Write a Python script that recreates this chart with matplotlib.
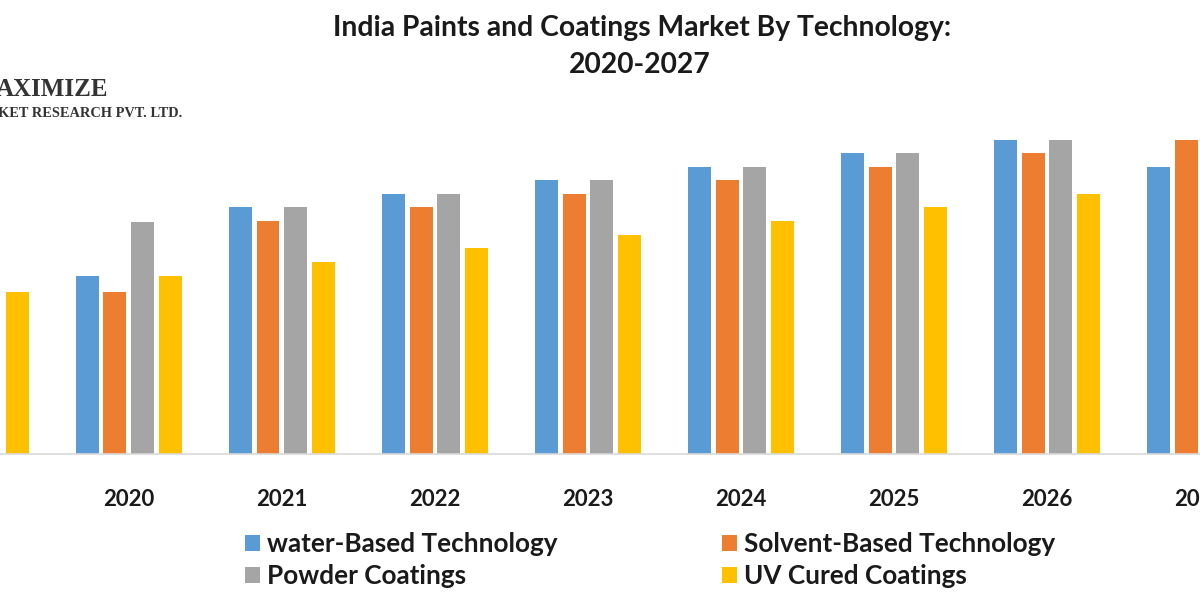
import matplotlib
matplotlib.use('Agg')
import matplotlib.pyplot as plt
import numpy as np
from matplotlib.patches import Patch

years = ['2019', '2020', '2021', '2022', '2023', '2024', '2025', '2026', '2027']
series_names = ['water-Based Technology', 'Solvent-Based Technology',
                'Powder Coatings', 'UV Cured Coatings']
water = [np.nan, 17.8, 24.7, 26.0, 27.4, 28.7, 30.1, 31.4, 28.7]
solvent = [np.nan, 16.2, 23.3, 24.7, 26.0, 27.4, 28.7, 30.1, 31.4]
powder = [np.nan, 23.2, 24.7, 26.0, 27.4, 28.7, 30.1, 31.4, np.nan]
uv = [16.2, 17.8, 19.2, 20.6, 21.9, 23.3, 24.7, 26.0, np.nan]
colors = ['#5B9BD5', '#ED7D31', '#A5A5A5', '#FFC000']

W, H = 1200, 600
fig = plt.figure(figsize=(12, 6), dpi=100)
base_px = 454
ax = fig.add_axes([0, (H - base_px) / H, 1, base_px / H])

x = np.arange(len(years))
offsets = [-0.2707, -0.0902, 0.0902, 0.2707]
width = 0.15
for vals, off, c, name in zip([water, solvent, powder, uv], offsets, colors, series_names):
    ax.bar(x + off, vals, width=width, color=c, label=name, zorder=2)

ax.set_yticks([])
ax.set_xticks(x)
ax.set_xticklabels(years, fontfamily='Lato', fontweight='bold', fontsize=16, color='#1a1a1a')
ax.tick_params(axis='x', length=0, pad=25)
ax.set_xlim(0.1585, 8.0)
ax.set_ylim(0, 45.4)
for s in ['top', 'left', 'right']:
    ax.spines[s].set_visible(False)
ax.spines['bottom'].set_color('#D9D9D9')
ax.spines['bottom'].set_linewidth(1.2)
ax.patch.set_alpha(0)

# Title
fig.text(642 / W, 1 - 28 / H, 'India Paints and Coatings Market By Technology:',
         ha='center', va='center', fontfamily='Lato', fontweight='bold', fontsize=20.3, color='#1a1a1a')
fig.text(640 / W, 1 - 65 / H, '2020-2027',
         ha='center', va='center', fontfamily='Lato', fontweight='bold', fontsize=20.3, color='#1a1a1a')

# Logo (cropped)
fig.text(-4 / W, 1 - 90 / H, 'AXIMIZE', ha='left', va='center',
         fontfamily='Liberation Serif', fontweight='bold', fontsize=18, color='#333333')
fig.text(-2 / W, 1 - 114 / H, 'KET RESEARCH PVT. LTD.', ha='left', va='center',
         fontfamily='Liberation Serif', fontweight='bold', fontsize=10.4, color='#333333')

# Legend (two columns)
handles = [Patch(facecolor=c, edgecolor='none') for c in colors]
leg_kw = dict(frameon=False, prop={'family': 'Lato', 'weight': 'bold', 'size': 18.8},
              handlelength=0.57, handleheight=0.57, handletextpad=0.28,
              labelspacing=0.3, borderpad=0, borderaxespad=0, loc='upper left')
leg1 = fig.legend([handles[0], handles[2]], [series_names[0], series_names[2]],
                  bbox_to_anchor=(245 / W, 1 - 532 / H), **leg_kw)
leg2 = fig.legend([handles[1], handles[3]], [series_names[1], series_names[3]],
                  bbox_to_anchor=(722 / W, 1 - 532 / H), **leg_kw)
for leg in (leg1, leg2):
    for t in leg.get_texts():
        t.set_color('#1a1a1a')

fig.savefig('out.png', dpi=100)
